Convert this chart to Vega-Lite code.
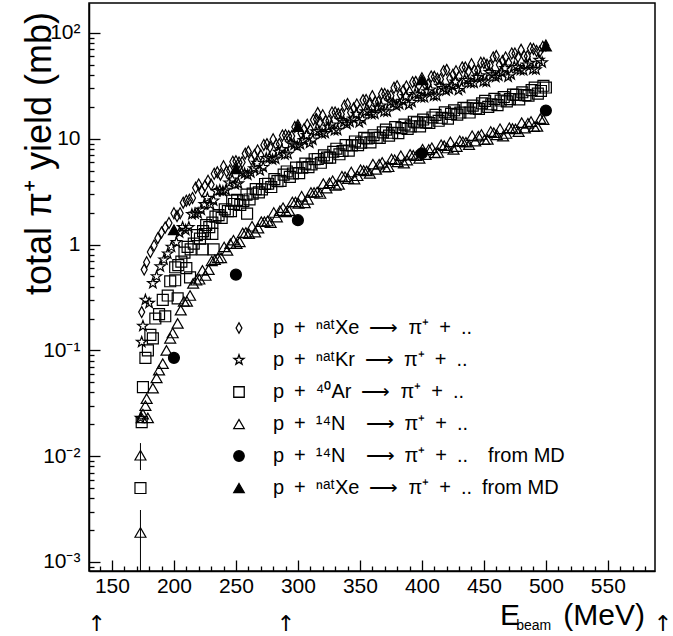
{
"$schema": "https://vega.github.io/schema/vega-lite/v6.json",
"width": 566, "height": 568,
"autosize": "none",
"padding": {"left": 89, "top": 3, "right": 18, "bottom": 65},
"background": "white",
"config": {"view": {"stroke": "black", "strokeWidth": 1.5}, "font": "Liberation Sans", "axis": {"labelOverlap": false}},
"resolve": {"axis": {"x": "independent", "y": "independent"}},
"layer": [
{
"data": {"values": [
{"s":"Xe","e":174,"y":0.23},{"s":"Xe","e":176,"y":0.58},{"s":"Xe","e":178,"y":0.68},{"s":"Xe","e":181,"y":0.85},{"s":"Xe","e":184,"y":0.98},{"s":"Xe","e":187,"y":1.15},{"s":"Xe","e":190,"y":1.3},{"s":"Xe","e":193,"y":1.45},{"s":"Xe","e":196,"y":1.6},
{"s":"Xe","e":200,"y":1.98},{"s":"Xe","e":205,"y":1.98},{"s":"Xe","e":210,"y":2.6},{"s":"Xe","e":215,"y":2.76},{"s":"Xe","e":220,"y":3.7},{"s":"Xe","e":225,"y":3.59},{"s":"Xe","e":230,"y":3.69},{"s":"Xe","e":235,"y":4.82},{"s":"Xe","e":240,"y":5.5},{"s":"Xe","e":245,"y":5.01},{"s":"Xe","e":250,"y":6.14},{"s":"Xe","e":255,"y":5.99},{"s":"Xe","e":260,"y":7.56},{"s":"Xe","e":265,"y":7.03},{"s":"Xe","e":270,"y":7.02},{"s":"Xe","e":275,"y":8.9},{"s":"Xe","e":280,"y":9.9},{"s":"Xe","e":285,"y":8.92},{"s":"Xe","e":290,"y":10.8},{"s":"Xe","e":295,"y":10.6},{"s":"Xe","e":300,"y":13.4},{"s":"Xe","e":305,"y":12.4},{"s":"Xe","e":310,"y":12.2},{"s":"Xe","e":315,"y":15.3},{"s":"Xe","e":316,"y":17.5},{"s":"Xe","e":320,"y":16.7},{"s":"Xe","e":325,"y":14.8},{"s":"Xe","e":330,"y":17.7},{"s":"Xe","e":335,"y":17.1},{"s":"Xe","e":340,"y":21.3},{"s":"Xe","e":345,"y":19.4},{"s":"Xe","e":350,"y":18.9},{"s":"Xe","e":355,"y":23.3},{"s":"Xe","e":360,"y":25.3},{"s":"Xe","e":365,"y":22.4},{"s":"Xe","e":370,"y":26.5},{"s":"Xe","e":375,"y":25.5},{"s":"Xe","e":380,"y":31.4},{"s":"Xe","e":385,"y":28.6},{"s":"Xe","e":390,"y":27.9},{"s":"Xe","e":395,"y":34.5},{"s":"Xe","e":400,"y":37.4},{"s":"Xe","e":405,"y":32.7},{"s":"Xe","e":410,"y":38.5},{"s":"Xe","e":415,"y":36.6},{"s":"Xe","e":420,"y":44.8},{"s":"Xe","e":425,"y":40.3},{"s":"Xe","e":430,"y":38.7},{"s":"Xe","e":435,"y":47.2},{"s":"Xe","e":440,"y":50.6},{"s":"Xe","e":445,"y":44.2},{"s":"Xe","e":450,"y":52},{"s":"Xe","e":455,"y":49.4},{"s":"Xe","e":460,"y":60.5},{"s":"Xe","e":465,"y":54.3},{"s":"Xe","e":470,"y":52.2},{"s":"Xe","e":475,"y":64.1},{"s":"Xe","e":480,"y":69.3},{"s":"Xe","e":485,"y":60.3},{"s":"Xe","e":490,"y":70.7},{"s":"Xe","e":495,"y":66.5},{"s":"Xe","e":500,"y":76},
{"s":"Xe","e":202.5,"y":1.86},{"s":"Xe","e":207.5,"y":2.49},{"s":"Xe","e":212.5,"y":2.65},{"s":"Xe","e":217.5,"y":3.44},{"s":"Xe","e":222.5,"y":3.19},{"s":"Xe","e":227.5,"y":4.02},{"s":"Xe","e":232.5,"y":4.67},{"s":"Xe","e":237.5,"y":4.58},{"s":"Xe","e":242.5,"y":4.91},{"s":"Xe","e":247.5,"y":6.07},{"s":"Xe","e":252.5,"y":5.98},{"s":"Xe","e":257.5,"y":7.24},{"s":"Xe","e":262.5,"y":6.37},{"s":"Xe","e":267.5,"y":7.75},{"s":"Xe","e":272.5,"y":8.75},{"s":"Xe","e":277.5,"y":8.35},{"s":"Xe","e":282.5,"y":8.79},{"s":"Xe","e":287.5,"y":10.75},{"s":"Xe","e":292.5,"y":10.6},{"s":"Xe","e":297.5,"y":12.9},{"s":"Xe","e":302.5,"y":11.3},{"s":"Xe","e":307.5,"y":13.6},{"s":"Xe","e":312.5,"y":15.1},{"s":"Xe","e":317.5,"y":14.2},{"s":"Xe","e":322.5,"y":14.7},{"s":"Xe","e":327.5,"y":17.7},{"s":"Xe","e":332.5,"y":17.2},{"s":"Xe","e":337.5,"y":20.5},{"s":"Xe","e":342.5,"y":17.7},{"s":"Xe","e":347.5,"y":21.1},{"s":"Xe","e":352.5,"y":23.2},{"s":"Xe","e":357.5,"y":21.6},{"s":"Xe","e":362.5,"y":22.2},{"s":"Xe","e":367.5,"y":26.6},{"s":"Xe","e":372.5,"y":25.6},{"s":"Xe","e":377.5,"y":30.4},{"s":"Xe","e":382.5,"y":26.2},{"s":"Xe","e":387.5,"y":31.2},{"s":"Xe","e":392.5,"y":34.3},{"s":"Xe","e":397.5,"y":31.9},{"s":"Xe","e":402.5,"y":32.7},{"s":"Xe","e":407.5,"y":38.8},{"s":"Xe","e":412.5,"y":37},{"s":"Xe","e":417.5,"y":43.6},{"s":"Xe","e":422.5,"y":37.1},{"s":"Xe","e":427.5,"y":43.5},{"s":"Xe","e":432.5,"y":47.3},{"s":"Xe","e":437.5,"y":43.4},{"s":"Xe","e":442.5,"y":44.2},{"s":"Xe","e":447.5,"y":52.4},{"s":"Xe","e":452.5,"y":50},{"s":"Xe","e":457.5,"y":58.8},{"s":"Xe","e":462.5,"y":50},{"s":"Xe","e":467.5,"y":58.7},{"s":"Xe","e":472.5,"y":64},{"s":"Xe","e":477.5,"y":59.3},{"s":"Xe","e":482.5,"y":60.4},{"s":"Xe","e":487.5,"y":71.4},{"s":"Xe","e":492.5,"y":67.6},{"s":"Xe","e":497.5,"y":74},
{"s":"Kr","e":173,"y":0.023},{"s":"Kr","e":174,"y":0.12},{"s":"Kr","e":175,"y":0.17},{"s":"Kr","e":177,"y":0.3},{"s":"Kr","e":180,"y":0.28},{"s":"Kr","e":183,"y":0.43},{"s":"Kr","e":186,"y":0.5},{"s":"Kr","e":189,"y":0.62},{"s":"Kr","e":192,"y":0.72},{"s":"Kr","e":195,"y":0.82},{"s":"Kr","e":198,"y":0.95},
{"s":"Kr","e":202,"y":1.05},{"s":"Kr","e":207,"y":1.46},{"s":"Kr","e":212,"y":1.46},{"s":"Kr","e":217,"y":1.96},{"s":"Kr","e":222,"y":2.13},{"s":"Kr","e":227,"y":2.75},{"s":"Kr","e":232,"y":2.6},{"s":"Kr","e":237,"y":3.26},{"s":"Kr","e":242,"y":3.28},{"s":"Kr","e":247,"y":4.1},{"s":"Kr","e":252,"y":3.78},{"s":"Kr","e":257,"y":4.69},{"s":"Kr","e":262,"y":4.8},{"s":"Kr","e":267,"y":5.89},{"s":"Kr","e":272,"y":5.39},{"s":"Kr","e":277,"y":6.62},{"s":"Kr","e":282,"y":6.46},{"s":"Kr","e":287,"y":7.94},{"s":"Kr","e":292,"y":7.19},{"s":"Kr","e":297,"y":8.76},{"s":"Kr","e":302,"y":8.88},{"s":"Kr","e":307,"y":10.8},{"s":"Kr","e":312,"y":9.77},{"s":"Kr","e":317,"y":11.8},{"s":"Kr","e":322,"y":11.3},{"s":"Kr","e":327,"y":13.6},{"s":"Kr","e":332,"y":12.1},{"s":"Kr","e":337,"y":14.4},{"s":"Kr","e":342,"y":14.4},{"s":"Kr","e":347,"y":17.1},{"s":"Kr","e":352,"y":15.2},{"s":"Kr","e":357,"y":18.1},{"s":"Kr","e":362,"y":17.2},{"s":"Kr","e":367,"y":20.5},{"s":"Kr","e":372,"y":18.1},{"s":"Kr","e":377,"y":21.5},{"s":"Kr","e":382,"y":21.2},{"s":"Kr","e":387,"y":25.2},{"s":"Kr","e":392,"y":22.2},{"s":"Kr","e":397,"y":26.1},{"s":"Kr","e":402,"y":24.6},{"s":"Kr","e":407,"y":29.1},{"s":"Kr","e":412,"y":25.5},{"s":"Kr","e":417,"y":30.1},{"s":"Kr","e":422,"y":29.5},{"s":"Kr","e":427,"y":34.5},{"s":"Kr","e":432,"y":30.3},{"s":"Kr","e":437,"y":35.8},{"s":"Kr","e":442,"y":33.7},{"s":"Kr","e":447,"y":39.6},{"s":"Kr","e":452,"y":34.6},{"s":"Kr","e":457,"y":40.4},{"s":"Kr","e":462,"y":39.4},{"s":"Kr","e":467,"y":46.3},{"s":"Kr","e":472,"y":40.5},{"s":"Kr","e":477,"y":47.4},{"s":"Kr","e":482,"y":44.3},{"s":"Kr","e":487,"y":51.9},{"s":"Kr","e":492,"y":45.1},{"s":"Kr","e":497,"y":52.6},
{"s":"Kr","e":204.5,"y":1.3},{"s":"Kr","e":209.5,"y":1.37},{"s":"Kr","e":214.5,"y":1.93},{"s":"Kr","e":219.5,"y":1.97},{"s":"Kr","e":224.5,"y":2.4},{"s":"Kr","e":229.5,"y":2.39},{"s":"Kr","e":234.5,"y":3.19},{"s":"Kr","e":239.5,"y":3.18},{"s":"Kr","e":244.5,"y":3.84},{"s":"Kr","e":249.5,"y":3.7},{"s":"Kr","e":254.5,"y":4.79},{"s":"Kr","e":259.5,"y":4.56},{"s":"Kr","e":264.5,"y":5.25},{"s":"Kr","e":269.5,"y":5.02},{"s":"Kr","e":274.5,"y":6.53},{"s":"Kr","e":279.5,"y":6.35},{"s":"Kr","e":284.5,"y":7.5},{"s":"Kr","e":289.5,"y":7.09},{"s":"Kr","e":294.5,"y":9.02},{"s":"Kr","e":299.5,"y":8.47},{"s":"Kr","e":304.5,"y":9.67},{"s":"Kr","e":309.5,"y":9.13},{"s":"Kr","e":314.5,"y":11.7},{"s":"Kr","e":319.5,"y":11.2},{"s":"Kr","e":324.5,"y":13},{"s":"Kr","e":329.5,"y":12},{"s":"Kr","e":334.5,"y":15},{"s":"Kr","e":339.5,"y":13.8},{"s":"Kr","e":344.5,"y":15.5},{"s":"Kr","e":349.5,"y":14.3},{"s":"Kr","e":354.5,"y":18.1},{"s":"Kr","e":359.5,"y":17.1},{"s":"Kr","e":364.5,"y":19.7},{"s":"Kr","e":369.5,"y":18.1},{"s":"Kr","e":374.5,"y":22.4},{"s":"Kr","e":379.5,"y":20.5},{"s":"Kr","e":384.5,"y":22.8},{"s":"Kr","e":389.5,"y":21.1},{"s":"Kr","e":394.5,"y":26.4},{"s":"Kr","e":399.5,"y":24.6},{"s":"Kr","e":404.5,"y":28},{"s":"Kr","e":409.5,"y":25.5},{"s":"Kr","e":414.5,"y":31.5},{"s":"Kr","e":419.5,"y":28.6},{"s":"Kr","e":424.5,"y":31.5},{"s":"Kr","e":429.5,"y":28.8},{"s":"Kr","e":434.5,"y":36},{"s":"Kr","e":439.5,"y":33.8},{"s":"Kr","e":444.5,"y":38.3},{"s":"Kr","e":449.5,"y":34.7},{"s":"Kr","e":454.5,"y":42.5},{"s":"Kr","e":459.5,"y":38.3},{"s":"Kr","e":464.5,"y":42.2},{"s":"Kr","e":469.5,"y":38.6},{"s":"Kr","e":474.5,"y":47.9},{"s":"Kr","e":479.5,"y":44.5},{"s":"Kr","e":484.5,"y":50.2},{"s":"Kr","e":489.5,"y":45.4},{"s":"Kr","e":494.5,"y":55.4},
{"s":"Ar","e":173,"y":0.005},{"s":"Ar","e":174,"y":0.021},{"s":"Ar","e":175,"y":0.045},{"s":"Ar","e":177,"y":0.085},{"s":"Ar","e":179,"y":0.1},{"s":"Ar","e":181,"y":0.14},{"s":"Ar","e":183,"y":0.13},{"s":"Ar","e":185,"y":0.2},{"s":"Ar","e":188,"y":0.22},{"s":"Ar","e":191,"y":0.3},{"s":"Ar","e":193,"y":0.21},{"s":"Ar","e":195,"y":0.33},{"s":"Ar","e":197,"y":0.45},
{"s":"Ar","e":201,"y":0.46},{"s":"Ar","e":203,"y":0.31},{"s":"Ar","e":210,"y":0.6},{"s":"Ar","e":213,"y":0.49},{"s":"Ar","e":223,"y":0.9},{"s":"Ar","e":225,"y":1.26},{"s":"Ar","e":231,"y":1.26},{"s":"Ar","e":232,"y":0.9},{"s":"Ar","e":247,"y":2.6},{"s":"Ar","e":259,"y":1.96},
{"s":"Ar","e":201,"y":0.61},{"s":"Ar","e":206,"y":0.69},{"s":"Ar","e":211,"y":0.95},{"s":"Ar","e":216,"y":1.02},{"s":"Ar","e":221,"y":1.14},{"s":"Ar","e":226,"y":1.53},{"s":"Ar","e":231,"y":1.61},{"s":"Ar","e":236,"y":1.9},{"s":"Ar","e":241,"y":2.15},{"s":"Ar","e":246,"y":2.07},{"s":"Ar","e":251,"y":2.65},{"s":"Ar","e":256,"y":2.57},{"s":"Ar","e":261,"y":2.67},{"s":"Ar","e":266,"y":3.34},{"s":"Ar","e":271,"y":3.33},{"s":"Ar","e":276,"y":3.76},{"s":"Ar","e":281,"y":4.15},{"s":"Ar","e":286,"y":4.0},{"s":"Ar","e":291,"y":4.91},{"s":"Ar","e":296,"y":4.7},{"s":"Ar","e":301,"y":4.74},{"s":"Ar","e":306,"y":5.83},{"s":"Ar","e":311,"y":5.73},{"s":"Ar","e":316,"y":6.44},{"s":"Ar","e":321,"y":6.98},{"s":"Ar","e":326,"y":6.63},{"s":"Ar","e":331,"y":8.05},{"s":"Ar","e":336,"y":7.66},{"s":"Ar","e":341,"y":7.73},{"s":"Ar","e":346,"y":9.43},{"s":"Ar","e":351,"y":9.21},{"s":"Ar","e":356,"y":10.1},{"s":"Ar","e":361,"y":10.8},{"s":"Ar","e":366,"y":10.2},{"s":"Ar","e":371,"y":12.2},{"s":"Ar","e":376,"y":11.4},{"s":"Ar","e":381,"y":11.3},{"s":"Ar","e":386,"y":13.6},{"s":"Ar","e":391,"y":13.1},{"s":"Ar","e":396,"y":14.3},{"s":"Ar","e":401,"y":15.2},{"s":"Ar","e":406,"y":14.1},{"s":"Ar","e":411,"y":16.8},{"s":"Ar","e":416,"y":15.8},{"s":"Ar","e":421,"y":15.5},{"s":"Ar","e":426,"y":18.6},{"s":"Ar","e":431,"y":17.7},{"s":"Ar","e":436,"y":19.5},{"s":"Ar","e":441,"y":20.6},{"s":"Ar","e":446,"y":19.2},{"s":"Ar","e":451,"y":22.8},{"s":"Ar","e":456,"y":21.2},{"s":"Ar","e":461,"y":20.8},{"s":"Ar","e":466,"y":24.8},{"s":"Ar","e":471,"y":23.7},{"s":"Ar","e":476,"y":26},{"s":"Ar","e":481,"y":27.5},{"s":"Ar","e":486,"y":25.6},{"s":"Ar","e":491,"y":30.5},{"s":"Ar","e":496,"y":28.3},{"s":"Ar","e":500,"y":30.5},
{"s":"Ar","e":203.5,"y":0.64},{"s":"Ar","e":208.5,"y":0.84},{"s":"Ar","e":213.5,"y":0.9},{"s":"Ar","e":218.5,"y":1.23},{"s":"Ar","e":223.5,"y":1.34},{"s":"Ar","e":228.5,"y":1.46},{"s":"Ar","e":233.5,"y":1.84},{"s":"Ar","e":238.5,"y":1.79},{"s":"Ar","e":243.5,"y":2.07},{"s":"Ar","e":248.5,"y":2.42},{"s":"Ar","e":253.5,"y":2.37},{"s":"Ar","e":258.5,"y":2.97},{"s":"Ar","e":263.5,"y":3.03},{"s":"Ar","e":268.5,"y":3.12},{"s":"Ar","e":273.5,"y":3.74},{"s":"Ar","e":278.5,"y":3.5},{"s":"Ar","e":283.5,"y":3.98},{"s":"Ar","e":288.5,"y":4.58},{"s":"Ar","e":293.5,"y":4.37},{"s":"Ar","e":298.5,"y":5.35},{"s":"Ar","e":303.5,"y":5.33},{"s":"Ar","e":308.5,"y":5.4},{"s":"Ar","e":313.5,"y":6.41},{"s":"Ar","e":318.5,"y":5.93},{"s":"Ar","e":323.5,"y":6.64},{"s":"Ar","e":328.5,"y":7.54},{"s":"Ar","e":333.5,"y":7.14},{"s":"Ar","e":338.5,"y":8.72},{"s":"Ar","e":343.5,"y":8.65},{"s":"Ar","e":348.5,"y":8.69},{"s":"Ar","e":353.5,"y":10.2},{"s":"Ar","e":358.5,"y":9.25},{"s":"Ar","e":363.5,"y":10.2},{"s":"Ar","e":368.5,"y":11.5},{"s":"Ar","e":373.5,"y":10.7},{"s":"Ar","e":378.5,"y":12.9},{"s":"Ar","e":383.5,"y":12.6},{"s":"Ar","e":388.5,"y":12.4},{"s":"Ar","e":393.5,"y":14.5},{"s":"Ar","e":398.5,"y":13.1},{"s":"Ar","e":403.5,"y":14.3},{"s":"Ar","e":408.5,"y":15.9},{"s":"Ar","e":413.5,"y":14.8},{"s":"Ar","e":418.5,"y":17.8},{"s":"Ar","e":423.5,"y":17.2},{"s":"Ar","e":428.5,"y":16.9},{"s":"Ar","e":433.5,"y":19.6},{"s":"Ar","e":438.5,"y":17.7},{"s":"Ar","e":443.5,"y":19.4},{"s":"Ar","e":448.5,"y":21.6},{"s":"Ar","e":453.5,"y":20},{"s":"Ar","e":458.5,"y":23.8},{"s":"Ar","e":463.5,"y":23},{"s":"Ar","e":468.5,"y":22.6},{"s":"Ar","e":473.5,"y":26.2},{"s":"Ar","e":478.5,"y":23.6},{"s":"Ar","e":483.5,"y":25.9},{"s":"Ar","e":488.5,"y":28.8},{"s":"Ar","e":493.5,"y":26.7},{"s":"Ar","e":498,"y":31.7},
{"s":"N","e":173,"y":0.0019},{"s":"N","e":173,"y":0.0102},{"s":"N","e":174,"y":0.023},{"s":"N","e":175,"y":0.025},{"s":"N","e":177,"y":0.03},{"s":"N","e":178,"y":0.035},{"s":"N","e":179,"y":0.023},{"s":"N","e":183,"y":0.044},{"s":"N","e":186,"y":0.055},{"s":"N","e":188,"y":0.065},{"s":"N","e":191,"y":0.075},{"s":"N","e":194,"y":0.1},{"s":"N","e":197,"y":0.13},{"s":"N","e":199,"y":0.146},
{"s":"N","e":203,"y":0.18},{"s":"N","e":208,"y":0.29},{"s":"N","e":213,"y":0.33},{"s":"N","e":218,"y":0.46},{"s":"N","e":223,"y":0.57},{"s":"N","e":228,"y":0.58},{"s":"N","e":233,"y":0.72},{"s":"N","e":238,"y":0.75},{"s":"N","e":243,"y":0.88},{"s":"N","e":248,"y":1.1},{"s":"N","e":253,"y":1.06},{"s":"N","e":258,"y":1.3},{"s":"N","e":263,"y":1.49},{"s":"N","e":268,"y":1.43},{"s":"N","e":273,"y":1.65},{"s":"N","e":278,"y":1.61},{"s":"N","e":283,"y":1.82},{"s":"N","e":288,"y":2.23},{"s":"N","e":293,"y":2.09},{"s":"N","e":298,"y":2.53},{"s":"N","e":303,"y":2.86},{"s":"N","e":308,"y":2.68},{"s":"N","e":313,"y":3.11},{"s":"N","e":318,"y":3.04},{"s":"N","e":323,"y":3.41},{"s":"N","e":328,"y":4.01},{"s":"N","e":333,"y":3.7},{"s":"N","e":338,"y":4.37},{"s":"N","e":343,"y":4.85},{"s":"N","e":348,"y":4.47},{"s":"N","e":353,"y":5.02},{"s":"N","e":358,"y":4.71},{"s":"N","e":363,"y":5.14},{"s":"N","e":368,"y":5.99},{"s":"N","e":373,"y":5.44},{"s":"N","e":378,"y":6.34},{"s":"N","e":383,"y":6.92},{"s":"N","e":388,"y":6.27},{"s":"N","e":393,"y":6.99},{"s":"N","e":398,"y":6.53},{"s":"N","e":403,"y":7.08},{"s":"N","e":408,"y":8.22},{"s":"N","e":413,"y":7.42},{"s":"N","e":418,"y":8.61},{"s":"N","e":423,"y":9.35},{"s":"N","e":428,"y":8.44},{"s":"N","e":433,"y":9.38},{"s":"N","e":438,"y":8.79},{"s":"N","e":443,"y":9.5},{"s":"N","e":448,"y":10.97},{"s":"N","e":453,"y":9.86},{"s":"N","e":458,"y":11.44},{"s":"N","e":463,"y":12.43},{"s":"N","e":468,"y":11.21},{"s":"N","e":473,"y":12.5},{"s":"N","e":478,"y":11.68},{"s":"N","e":483,"y":12.62},{"s":"N","e":488,"y":14.55},{"s":"N","e":493,"y":13.11},{"s":"N","e":498,"y":15.18},
{"s":"N","e":205.5,"y":0.24},{"s":"N","e":210.5,"y":0.29},{"s":"N","e":215.5,"y":0.43},{"s":"N","e":220.5,"y":0.47},{"s":"N","e":225.5,"y":0.51},{"s":"N","e":230.5,"y":0.7},{"s":"N","e":235.5,"y":0.75},{"s":"N","e":240.5,"y":0.95},{"s":"N","e":245.5,"y":1.02},{"s":"N","e":250.5,"y":1.02},{"s":"N","e":255.5,"y":1.29},{"s":"N","e":260.5,"y":1.27},{"s":"N","e":265.5,"y":1.31},{"s":"N","e":270.5,"y":1.65},{"s":"N","e":275.5,"y":1.67},{"s":"N","e":280.5,"y":2.01},{"s":"N","e":285.5,"y":2.09},{"s":"N","e":290.5,"y":2.04},{"s":"N","e":295.5,"y":2.53},{"s":"N","e":300.5,"y":2.45},{"s":"N","e":305.5,"y":2.48},{"s":"N","e":310.5,"y":3.11},{"s":"N","e":315.5,"y":3.14},{"s":"N","e":320.5,"y":3.77},{"s":"N","e":325.5,"y":3.83},{"s":"N","e":330.5,"y":3.63},{"s":"N","e":335.5,"y":4.42},{"s":"N","e":340.5,"y":4.2},{"s":"N","e":345.5,"y":4.16},{"s":"N","e":350.5,"y":5.1},{"s":"N","e":355.5,"y":4.97},{"s":"N","e":360.5,"y":5.76},{"s":"N","e":365.5,"y":5.75},{"s":"N","e":370.5,"y":5.38},{"s":"N","e":375.5,"y":6.45},{"s":"N","e":380.5,"y":6.04},{"s":"N","e":385.5,"y":5.89},{"s":"N","e":390.5,"y":7.13},{"s":"N","e":395.5,"y":6.91},{"s":"N","e":400.5,"y":7.96},{"s":"N","e":405.5,"y":7.91},{"s":"N","e":410.5,"y":7.36},{"s":"N","e":415.5,"y":8.78},{"s":"N","e":420.5,"y":8.18},{"s":"N","e":425.5,"y":7.94},{"s":"N","e":430.5,"y":9.58},{"s":"N","e":435.5,"y":9.28},{"s":"N","e":440.5,"y":10.7},{"s":"N","e":445.5,"y":10.6},{"s":"N","e":450.5,"y":9.8},{"s":"N","e":455.5,"y":11.7},{"s":"N","e":460.5,"y":10.9},{"s":"N","e":465.5,"y":10.6},{"s":"N","e":470.5,"y":12.7},{"s":"N","e":475.5,"y":12.4},{"s":"N","e":480.5,"y":14.2},{"s":"N","e":485.5,"y":14},{"s":"N","e":490.5,"y":13},{"s":"N","e":495.5,"y":15.5},
{"s":"NMD","e":200,"y":0.085},{"s":"NMD","e":250,"y":0.52},{"s":"NMD","e":300,"y":1.7},{"s":"NMD","e":400,"y":7.3},{"s":"NMD","e":500,"y":18.5},
{"s":"XeMD","e":200,"y":1.38},{"s":"XeMD","e":250,"y":5.2},{"s":"XeMD","e":300,"y":13},{"s":"XeMD","e":400,"y":36},{"s":"XeMD","e":500,"y":75}
]},
"mark": {"type": "point", "filled": false, "strokeWidth": 1.2, "size": 120, "opacity": 1},
"encoding": {
"x": {"field": "e", "type": "quantitative", "scale": {"domain": [131.5, 588], "nice": false, "zero": false},
 "axis": {"title": null, "orient": "bottom", "values": [150,200,250,300,350,400,450,500,550],
 "tickSize": -11,
 "tickColor": "black", "tickWidth": 1.3, "domainColor": "black", "domainWidth": 1.5,
 "labelFontSize": 21, "labelColor": "black", "labelPadding": 15, "labelOverlap": false, "labelFlush": false, "grid": false}},
"y": {"field": "y", "type": "quantitative", "scale": {"type": "log", "domain": [0.000822, 192], "nice": false},
 "axis": {"orient": "left", "values": [0.001,0.01,0.1,1,10,100],
 "labelExpr": "datum.value==100?'10²':datum.value==10?'10':datum.value==1?'1':datum.value==0.1?'10⁻¹':datum.value==0.01?'10⁻²':'10⁻³'",
 "tickSize": -11,
 "tickColor": "black", "tickWidth": 1.3, "domainColor": "black", "domainWidth": 1.5,
 "labelFontSize": 21, "labelColor": "black", "labelPadding": 20, "labelOverlap": false, "labelFlush": false, "grid": false,
 "title": "total π⁺ yield (mb)", "titleFontSize": 36, "titleFontWeight": "normal", "titleColor": "black",
 "titleX": -31, "titleY": 150, "titleAngle": 270, "titleAlign": "center", "titleBaseline": "bottom"}},
"shape": {"field": "s", "type": "nominal",
 "scale": {"domain": ["Xe","Kr","Ar","N","NMD","XeMD"], "range": ["M0,-1L0.55,0L0,1L-0.55,0Z","M0,-1L0.235,-0.324L0.951,-0.309L0.38,0.124L0.588,0.809L0,0.4L-0.588,0.809L-0.38,0.124L-0.951,-0.309L-0.235,-0.324Z","square","triangle-up","circle","triangle-up"]},
 "legend": {"title": null, "orient": "none", "legendX": 140, "legendY": 315, "padding": 0, "labelFontSize": 20, "labelColor": "black", "labelFont": "Liberation Sans", "symbolSize": 110, "symbolStrokeWidth": 1.3, "rowPadding": 12, "labelOffset": 24, "labelLimit": 500,
 "labelExpr": "datum.label=='Xe'?'p\u2002+\u2002ⁿᵃᵗXe\u2002⟶\u2002π⁺\u2002+\u2002..':datum.label=='Kr'?'p\u2002+\u2002ⁿᵃᵗKr\u2002⟶\u2002π⁺\u2002+\u2002..':datum.label=='Ar'?'p\u2002+\u2002⁴⁰Ar\u2002⟶\u2002π⁺\u2002+\u2002..':datum.label=='N'?'p\u2002+\u2002¹⁴N\u2002\u2002⟶\u2002π⁺\u2002+\u2002..':datum.label=='NMD'?'p\u2002+\u2002¹⁴N\u2002\u2002⟶\u2002π⁺\u2002+\u2002..\u2002\u2002from MD':'p\u2002+\u2002ⁿᵃᵗXe\u2002⟶\u2002π⁺\u2002+\u2002..\u2002from MD'"}},
"fill": {"field": "s", "type": "nominal",
 "scale": {"domain": ["Xe","Kr","Ar","N","NMD","XeMD"], "range": ["transparent","transparent","transparent","transparent","black","black"]},
 "legend": {"title": null, "orient": "none", "legendX": 140, "legendY": 315, "padding": 0, "labelFontSize": 20, "labelColor": "black", "labelFont": "Liberation Sans", "symbolSize": 110, "symbolStrokeWidth": 1.3, "rowPadding": 12, "labelOffset": 24, "labelLimit": 500,
 "labelExpr": "datum.label=='Xe'?'p\u2002+\u2002ⁿᵃᵗXe\u2002⟶\u2002π⁺\u2002+\u2002..':datum.label=='Kr'?'p\u2002+\u2002ⁿᵃᵗKr\u2002⟶\u2002π⁺\u2002+\u2002..':datum.label=='Ar'?'p\u2002+\u2002⁴⁰Ar\u2002⟶\u2002π⁺\u2002+\u2002..':datum.label=='N'?'p\u2002+\u2002¹⁴N\u2002\u2002⟶\u2002π⁺\u2002+\u2002..':datum.label=='NMD'?'p\u2002+\u2002¹⁴N\u2002\u2002⟶\u2002π⁺\u2002+\u2002..\u2002\u2002from MD':'p\u2002+\u2002ⁿᵃᵗXe\u2002⟶\u2002π⁺\u2002+\u2002..\u2002from MD'"}},
"stroke": {"field": "s", "type": "nominal",
 "scale": {"domain": ["Xe","Kr","Ar","N","NMD","XeMD"], "range": ["black","black","black","black","black","black"]},
 "legend": {"title": null, "orient": "none", "legendX": 140, "legendY": 315, "padding": 0, "labelFontSize": 20, "labelColor": "black", "labelFont": "Liberation Sans", "symbolSize": 110, "symbolStrokeWidth": 1.3, "rowPadding": 12, "labelOffset": 24, "labelLimit": 500,
 "labelExpr": "datum.label=='Xe'?'p\u2002+\u2002ⁿᵃᵗXe\u2002⟶\u2002π⁺\u2002+\u2002..':datum.label=='Kr'?'p\u2002+\u2002ⁿᵃᵗKr\u2002⟶\u2002π⁺\u2002+\u2002..':datum.label=='Ar'?'p\u2002+\u2002⁴⁰Ar\u2002⟶\u2002π⁺\u2002+\u2002..':datum.label=='N'?'p\u2002+\u2002¹⁴N\u2002\u2002⟶\u2002π⁺\u2002+\u2002..':datum.label=='NMD'?'p\u2002+\u2002¹⁴N\u2002\u2002⟶\u2002π⁺\u2002+\u2002..\u2002\u2002from MD':'p\u2002+\u2002ⁿᵃᵗXe\u2002⟶\u2002π⁺\u2002+\u2002..\u2002from MD'"}}
}
},
{
"data": {"values": [{"e": 173, "y": 0.0074, "y2": 0.0133}, {"e": 173, "y": 0.0004, "y2": 0.0031}]},
"mark": {"type": "rule", "clip": true, "color": "black", "strokeWidth": 1},
"encoding": {
"x": {"field": "e", "type": "quantitative",
 "axis": {"title": null, "orient": "bottom", "values": [140,160,170,180,190,210,220,230,240,260,270,280,290,310,320,330,340,360,370,380,390,410,420,430,440,460,470,480,490,510,520,530,540,560,570,580],
 "labels": false, "domain": false, "grid": false, "tickSize": -5, "tickColor": "black", "tickWidth": 1.3}},
"y": {"field": "y", "type": "quantitative",
 "axis": {"title": null, "orient": "left", "values": [0.0009,0.002,0.003,0.004,0.005,0.006,0.007,0.008,0.009,0.02,0.03,0.04,0.05,0.06,0.07,0.08,0.09,0.2,0.3,0.4,0.5,0.6,0.7,0.8,0.9,2,3,4,5,6,7,8,9,20,30,40,50,60,70,80,90],
 "labels": false, "domain": false, "grid": false, "tickSize": -5, "tickColor": "black", "tickWidth": 1.3}},
"y2": {"field": "y2"}}
},
{
"data": {"values": [{"e": 137.7}, {"e": 290.4}, {"e": 594.4}]},
"mark": {"type": "text", "text": "↑", "fontSize": 22, "baseline": "middle", "align": "center", "color": "black", "font": "DejaVu Sans"},
"encoding": {"x": {"field": "e", "type": "quantitative", "axis": null}, "y": {"datum": 0.00026, "axis": null}}
},
{
"data": {"values": [{}]},
"mark": {"type": "text", "text": "E", "fontSize": 30, "baseline": "alphabetic", "align": "left", "color": "black"},
"encoding": {"x": {"datum": 463, "axis": null}, "y": {"datum": 0.000254, "axis": null}}
},
{
"data": {"values": [{}]},
"mark": {"type": "text", "text": "beam", "fontSize": 14, "baseline": "alphabetic", "align": "left", "color": "black"},
"encoding": {"x": {"datum": 476, "axis": null}, "y": {"datum": 0.000228, "axis": null}}
},
{
"data": {"values": [{}]},
"mark": {"type": "text", "text": "(MeV)", "fontSize": 30, "baseline": "alphabetic", "align": "left", "color": "black"},
"encoding": {"x": {"datum": 514, "axis": null}, "y": {"datum": 0.000254, "axis": null}}
}
]
}
